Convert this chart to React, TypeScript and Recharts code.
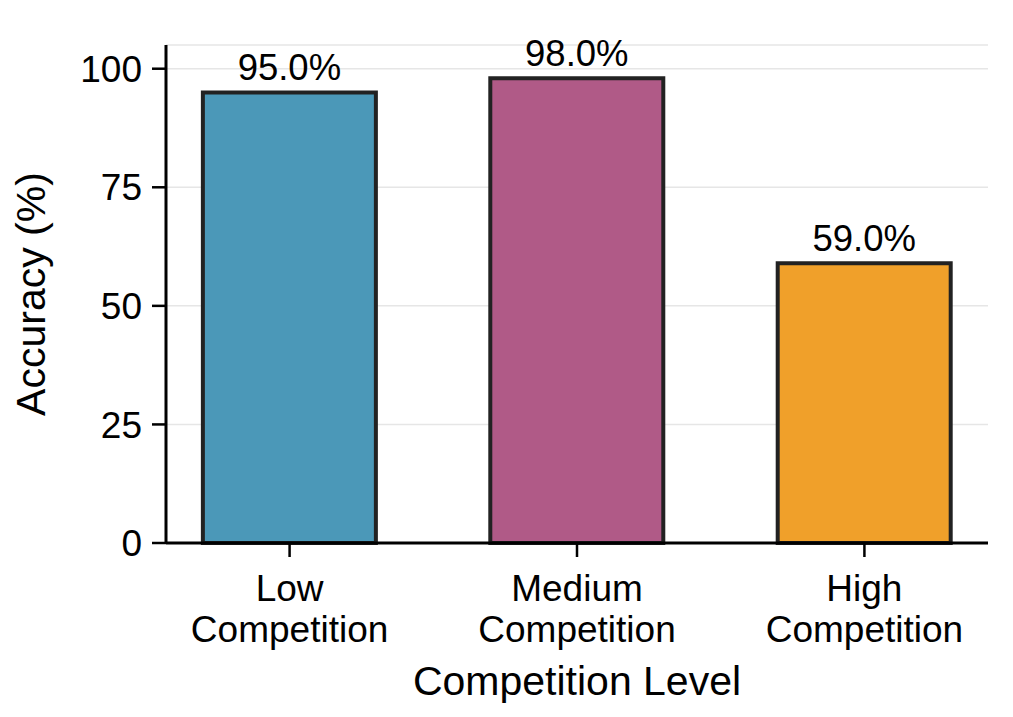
import { BarChart, Bar, XAxis, YAxis, CartesianGrid, Cell, LabelList, Label } from 'recharts';

const levels = ['Low\nCompetition', 'Medium\nCompetition', 'High\nCompetition'];
const accuracy = [95.0, 98.0, 59.0];
const barColors = ['#4b98b8', '#b05a87', '#f0a02a'];
const yTicks = [0, 25, 50, 75, 100];

const FONT = '"Liberation Sans", Arial, Helvetica, sans-serif';

const data = levels.map((level, i) => ({ x: i, level, accuracy: accuracy[i] }));

function LevelTick(props: any) {
  const { x, y, payload } = props;
  const lines = levels[payload.value].split('\n');
  return (
    <text x={x} y={y} textAnchor="middle" fontSize={37} fill="#000" fontFamily={FONT}>
      {lines.map((line, i) => (
        <tspan key={i} x={x} dy={i === 0 ? 42 : 41}>
          {line}
        </tspan>
      ))}
    </text>
  );
}

export default function App() {
  return (
    <div style={{ position: 'absolute', left: 0, top: 0, width: 1013, height: 717, background: '#fff' }}>
      <BarChart
        width={1013}
        height={717}
        data={data}
        margin={{ top: 45, right: 25, bottom: 0, left: 36 }}
        style={{ fontFamily: FONT }}
      >
        <CartesianGrid vertical={false} stroke="#e6e6e6" strokeWidth={1.5} />
        <XAxis
          dataKey="x"
          type="number"
          domain={[-0.43, 2.43]}
          ticks={[0, 1, 2]}
          tick={<LevelTick />}
          tickSize={14}
          height={174}
          axisLine={{ stroke: '#000', strokeWidth: 3 }}
          tickLine={{ stroke: '#000', strokeWidth: 2.5 }}
          interval={0}
        >
          <Label
            content={(p: any) => (
              <text
                x={p.viewBox.x + p.viewBox.width / 2}
                y={p.viewBox.y + 152}
                textAnchor="middle"
                fontSize={41}
                fill="#000"
                fontFamily={FONT}
              >
                Competition Level
              </text>
            )}
          />
        </XAxis>
        <YAxis
          type="number"
          domain={[0, 105]}
          ticks={yTicks}
          width={130}
          tickSize={14}
          tickMargin={10}
          tick={{ fontSize: 37, fill: '#000', fontFamily: FONT }}
          axisLine={{ stroke: '#000', strokeWidth: 3 }}
          tickLine={{ stroke: '#000', strokeWidth: 2.5 }}
        >
          <Label
            content={(p: any) => {
              const cx = 45;
              const cy = p.viewBox.y + p.viewBox.height / 2;
              return (
                <text
                  x={cx}
                  y={cy}
                  transform={`rotate(-90, ${cx}, ${cy})`}
                  textAnchor="middle"
                  fontSize={41}
                  fill="#000"
                  fontFamily={FONT}
                >
                  Accuracy (%)
                </text>
              );
            }}
          />
        </YAxis>
        <Bar dataKey="accuracy" barSize={173} stroke="#222" strokeWidth={4} isAnimationActive={false}>
          {data.map((d, i) => (
            <Cell key={d.level} fill={barColors[i]} />
          ))}
          <LabelList
            dataKey="accuracy"
            position="top"
            offset={12}
            formatter={(v: any) => `${Number(v).toFixed(1)}%`}
            style={{ fontSize: 36.5, fill: '#000', fontFamily: FONT }}
          />
        </Bar>
      </BarChart>
    </div>
  );
}
